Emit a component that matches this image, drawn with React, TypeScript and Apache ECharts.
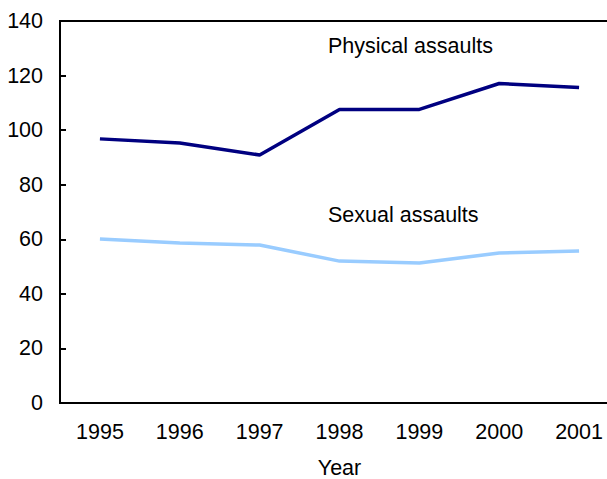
import React, { useEffect, useRef } from "react";
import * as echarts from "echarts";

const years = ["1995", "1996", "1997", "1998", "1999", "2000", "2001"];
const physicalAssaults = [96.8, 95.3, 90.9, 107.6, 107.6, 117.1, 115.6];
const sexualAssaults = [60.1, 58.6, 57.9, 52.0, 51.3, 55.0, 55.7];
const yTicks = { min: 0, max: 140, interval: 20 };

export default function App() {
  const ref = useRef<HTMLDivElement>(null);
  useEffect(() => {
    if (!ref.current) return;
    const chart = echarts.init(ref.current, null, { renderer: "svg" });
    const font = "Liberation Sans, Arial, sans-serif";
    const fs = 21.5;
    chart.setOption({
      animation: false,
      textStyle: { fontFamily: font },
      grid: {
        left: 60,
        top: 21,
        bottom: 76,
        right: -12,
        show: true,
        borderColor: "#000",
        borderWidth: 2,
        containLabel: false,
        outerBoundsMode: "none",
      },
      xAxis: {
        type: "category",
        data: years,
        boundaryGap: true,
        name: "Year",
        nameLocation: "middle",
        nameGap: 56,
        nameTextStyle: { color: "#000", fontSize: fs, lineHeight: 18, fontFamily: font },
        axisLine: { lineStyle: { color: "#000", width: 2 } },
        axisTick: { inside: true, length: 6, lineStyle: { color: "#000", width: 2 } },
        axisLabel: { color: "#000", fontSize: fs, margin: 18, fontFamily: font },
        splitLine: { show: false },
      },
      yAxis: {
        type: "value",
        min: yTicks.min,
        max: yTicks.max,
        interval: yTicks.interval,
        axisLine: { show: true, lineStyle: { color: "#000", width: 2 } },
        axisTick: { show: true, inside: true, length: 6, lineStyle: { color: "#000", width: 2 } },
        axisLabel: { color: "#000", fontSize: fs, margin: 17, fontFamily: font },
        splitLine: { show: false },
      },
      series: [
        {
          name: "Physical assaults",
          type: "line",
          data: physicalAssaults,
          symbol: "none",
          lineStyle: { color: "#000080", width: 3.5 },
        },
        {
          name: "Sexual assaults",
          type: "line",
          data: sexualAssaults,
          symbol: "none",
          lineStyle: { color: "#99ccff", width: 3.5 },
        },
      ],
      graphic: [
        {
          type: "text",
          x: 328,
          y: 46,
          style: {
            text: "Physical assaults",
            fill: "#000",
            font: `${fs}px ${font}`,
            verticalAlign: "middle",
            align: "left",
          },
        },
        {
          type: "text",
          x: 328,
          y: 214.5,
          style: {
            text: "Sexual assaults",
            fill: "#000",
            font: `${fs}px ${font}`,
            verticalAlign: "middle",
            align: "left",
          },
        },
      ],
    });
    return () => chart.dispose();
  }, []);
  return (
    <div
      ref={ref}
      style={{ position: "fixed", left: 0, top: 0, width: 607, height: 479, background: "#fff" }}
    />
  );
}
